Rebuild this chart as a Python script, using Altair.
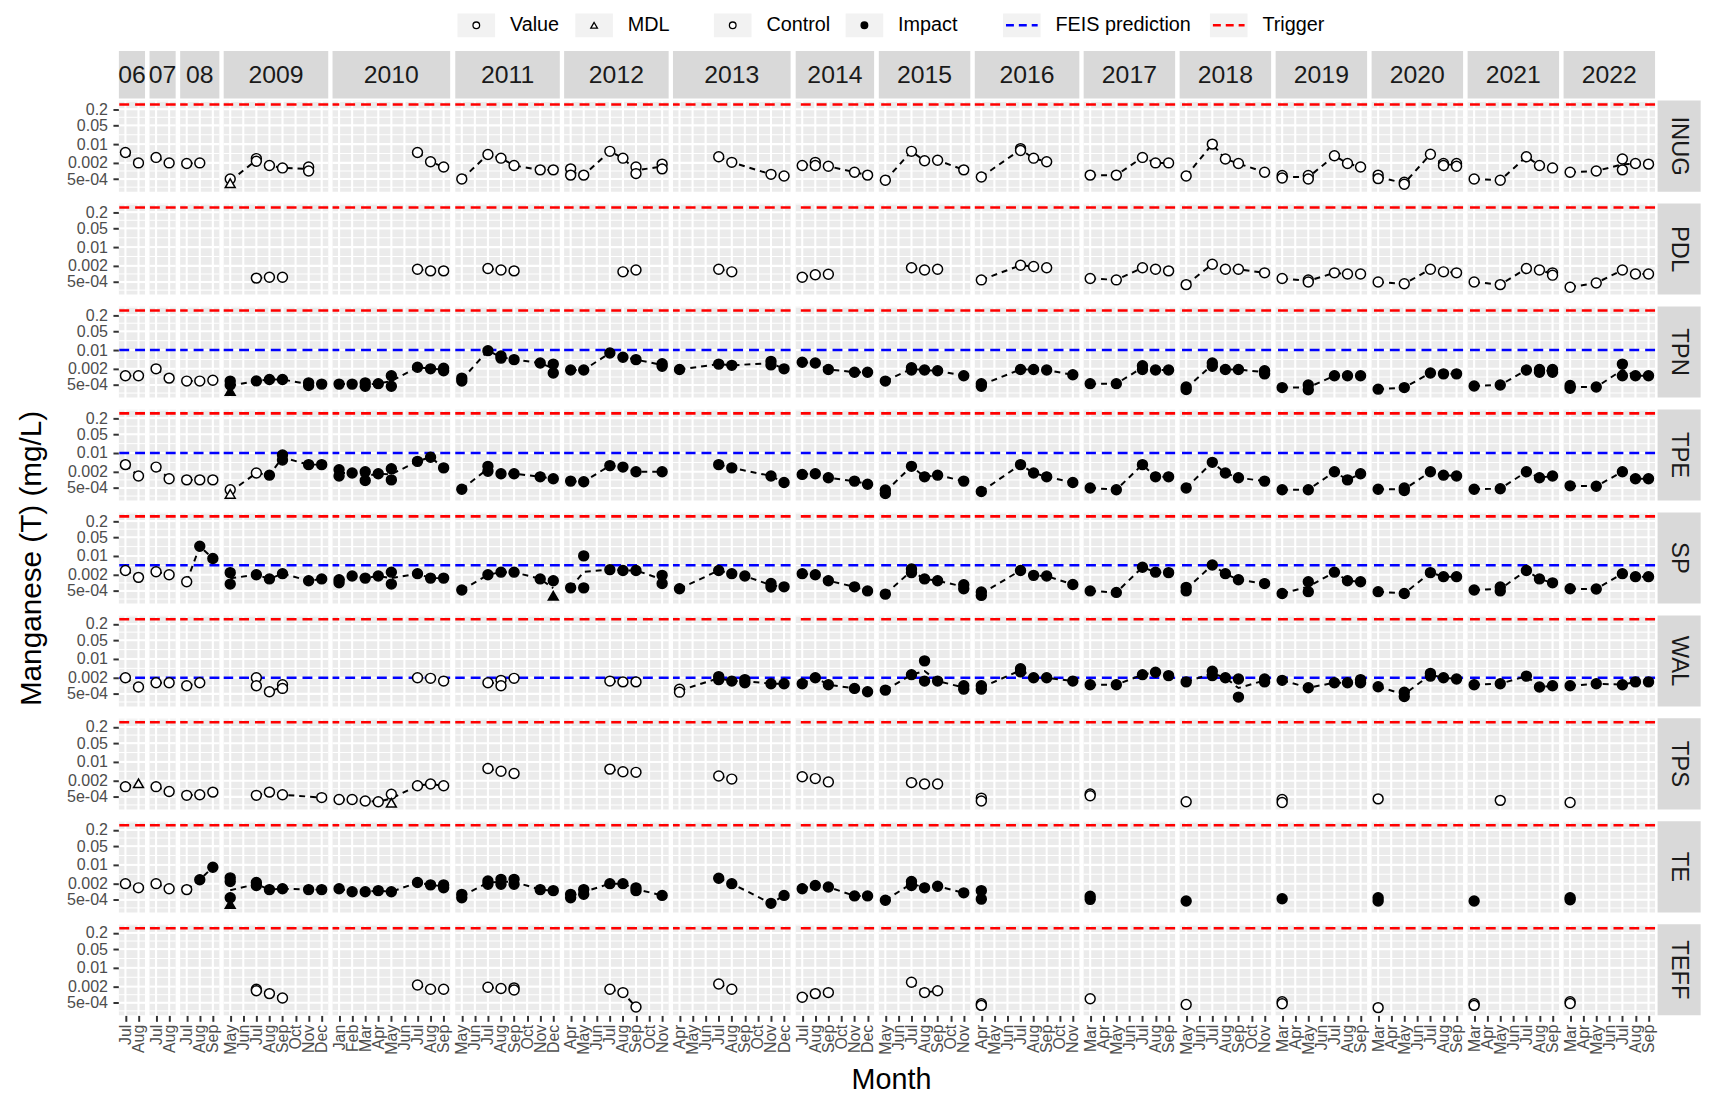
import altair as alt
import pandas as pd
import math

FONT = "Liberation Sans"

YEARS = ["06", "07", "08", "2009", "2010", "2011", "2012", "2013", "2014",
         "2015", "2016", "2017", "2018", "2019", "2020", "2021", "2022"]
MONTHS = [
    ["Jul", "Aug"], ["Jul", "Aug"], ["Jul", "Aug", "Sep"],
    ["May", "Jun", "Jul", "Aug", "Sep", "Oct", "Nov", "Dec"],
    ["Jan", "Feb", "Mar", "Apr", "May", "Jun", "Jul", "Aug", "Sep"],
    ["May", "Jun", "Jul", "Aug", "Sep", "Oct", "Nov", "Dec"],
    ["Apr", "May", "Jun", "Jul", "Aug", "Sep", "Oct", "Nov"],
    ["Apr", "May", "Jun", "Jul", "Aug", "Sep", "Oct", "Nov", "Dec"],
    ["Jul", "Aug", "Sep", "Oct", "Nov", "Dec"],
    ["May", "Jun", "Jul", "Aug", "Sep", "Oct", "Nov"],
    ["Apr", "May", "Jun", "Jul", "Aug", "Sep", "Oct", "Nov"],
    ["Mar", "Apr", "May", "Jun", "Jul", "Aug", "Sep"],
    ["May", "Jun", "Jul", "Aug", "Sep", "Oct", "Nov"],
    ["Mar", "Apr", "May", "Jun", "Jul", "Aug", "Sep"],
    ["Mar", "Apr", "May", "Jun", "Jul", "Aug", "Sep"],
    ["Mar", "Apr", "May", "Jun", "Jul", "Aug", "Sep"],
    ["Mar", "Apr", "May", "Jun", "Jul", "Aug", "Sep"],
]
STATIONS = ["INUG", "PDL", "TPN", "TPE", "SP", "WAL", "TPS", "TE", "TEFF"]

# (year panel, month, value[, "MDL"])
INUG = [
    ("06", "Jul", 0.0049), ("06", "Aug", 0.002), ("07", "Jul", 0.0032), ("07", "Aug", 0.002),
    ("08", "Jul", 0.0019), ("08", "Aug", 0.002),
    ("2009", "May", 0.0005), ("2009", "May", 0.00035, "MDL"), ("2009", "Jul", 0.0029), ("2009", "Jul", 0.0023),
    ("2009", "Aug", 0.0016), ("2009", "Sep", 0.0013), ("2009", "Nov", 0.0014), ("2009", "Nov", 0.001),
    ("2010", "Jul", 0.0049), ("2010", "Aug", 0.0022), ("2010", "Sep", 0.0014),
    ("2011", "May", 0.0005), ("2011", "Jul", 0.0041), ("2011", "Aug", 0.003), ("2011", "Sep", 0.0016),
    ("2011", "Nov", 0.0011), ("2011", "Dec", 0.0011),
    ("2012", "Apr", 0.0012), ("2012", "Apr", 0.0007), ("2012", "May", 0.0007), ("2012", "Jul", 0.0054),
    ("2012", "Aug", 0.003), ("2012", "Sep", 0.0014), ("2012", "Sep", 0.0008), ("2012", "Nov", 0.0018), ("2012", "Nov", 0.0012),
    ("2013", "Jul", 0.0034), ("2013", "Aug", 0.0021), ("2013", "Nov", 0.00075), ("2013", "Dec", 0.00065),
    ("2014", "Jul", 0.0016), ("2014", "Aug", 0.0021), ("2014", "Aug", 0.0016), ("2014", "Sep", 0.0015),
    ("2014", "Nov", 0.0009), ("2014", "Dec", 0.0007),
    ("2015", "May", 0.00045), ("2015", "Jul", 0.0054), ("2015", "Aug", 0.0024), ("2015", "Sep", 0.0025), ("2015", "Nov", 0.0011),
    ("2016", "Apr", 0.0006), ("2016", "Jul", 0.0068), ("2016", "Jul", 0.0058), ("2016", "Aug", 0.003), ("2016", "Sep", 0.0022),
    ("2017", "Mar", 0.0007), ("2017", "May", 0.0007), ("2017", "Jul", 0.0032), ("2017", "Aug", 0.002), ("2017", "Sep", 0.002),
    ("2018", "May", 0.00065), ("2018", "Jul", 0.01), ("2018", "Aug", 0.0028), ("2018", "Sep", 0.0019), ("2018", "Nov", 0.0009),
    ("2019", "Mar", 0.00068), ("2019", "Mar", 0.00055), ("2019", "May", 0.00068), ("2019", "May", 0.0005),
    ("2019", "Jul", 0.0037), ("2019", "Aug", 0.0019), ("2019", "Sep", 0.0014),
    ("2020", "Mar", 0.0007), ("2020", "Mar", 0.00052), ("2020", "May", 0.00038), ("2020", "May", 0.00032),
    ("2020", "Jul", 0.0042), ("2020", "Aug", 0.0019), ("2020", "Aug", 0.0016), ("2020", "Sep", 0.0019), ("2020", "Sep", 0.0015),
    ("2021", "Mar", 0.0005), ("2021", "May", 0.00045), ("2021", "Jul", 0.0034), ("2021", "Aug", 0.0016), ("2021", "Sep", 0.0013),
    ("2022", "Mar", 0.0009), ("2022", "May", 0.001), ("2022", "Jul", 0.0028), ("2022", "Jul", 0.0011),
    ("2022", "Aug", 0.0019), ("2022", "Sep", 0.0018),
]
PDL = [
    ("2009", "Jul", 0.0007), ("2009", "Aug", 0.00075), ("2009", "Sep", 0.00075),
    ("2010", "Jul", 0.0015), ("2010", "Aug", 0.0013), ("2010", "Sep", 0.0013),
    ("2011", "Jul", 0.0016), ("2011", "Aug", 0.0014), ("2011", "Sep", 0.0013),
    ("2012", "Aug", 0.0012), ("2012", "Sep", 0.0014),
    ("2013", "Jul", 0.0015), ("2013", "Aug", 0.0012),
    ("2014", "Jul", 0.00075), ("2014", "Aug", 0.00093), ("2014", "Sep", 0.00097),
    ("2015", "Jul", 0.0017), ("2015", "Aug", 0.0014), ("2015", "Sep", 0.0015),
    ("2016", "Apr", 0.0006), ("2016", "Jul", 0.0021), ("2016", "Aug", 0.0019), ("2016", "Sep", 0.0017),
    ("2017", "Mar", 0.00068), ("2017", "May", 0.0006), ("2017", "Jul", 0.0017), ("2017", "Aug", 0.0015), ("2017", "Sep", 0.0013),
    ("2018", "May", 0.0004), ("2018", "Jul", 0.0023), ("2018", "Aug", 0.0015), ("2018", "Sep", 0.0015), ("2018", "Nov", 0.0011),
    ("2019", "Mar", 0.00068), ("2019", "May", 0.0006), ("2019", "May", 0.0005), ("2019", "Jul", 0.0011),
    ("2019", "Aug", 0.001), ("2019", "Sep", 0.001),
    ("2020", "Mar", 0.0005), ("2020", "May", 0.00043), ("2020", "Jul", 0.0015), ("2020", "Aug", 0.0012), ("2020", "Sep", 0.0011),
    ("2021", "Mar", 0.0005), ("2021", "May", 0.0004), ("2021", "Jul", 0.0016), ("2021", "Aug", 0.0014),
    ("2021", "Sep", 0.0011), ("2021", "Sep", 0.0009),
    ("2022", "Mar", 0.00032), ("2022", "May", 0.00046), ("2022", "Jul", 0.0014), ("2022", "Aug", 0.001), ("2022", "Sep", 0.001),
]
TPN = [
    ("06", "Jul", 0.0011), ("06", "Aug", 0.0011), ("07", "Jul", 0.002), ("07", "Aug", 0.0009),
    ("08", "Jul", 0.0007), ("08", "Aug", 0.0007), ("08", "Sep", 0.00075),
    ("2009", "May", 0.0007), ("2009", "May", 0.0005), ("2009", "May", 0.0003, "MDL"), ("2009", "Jul", 0.00071),
    ("2009", "Aug", 0.0008), ("2009", "Sep", 0.0008), ("2009", "Nov", 0.0006), ("2009", "Nov", 0.00048), ("2009", "Dec", 0.00054),
    ("2010", "Jan", 0.00054), ("2010", "Feb", 0.00054), ("2010", "Mar", 0.0006), ("2010", "Mar", 0.00045),
    ("2010", "Apr", 0.00056), ("2010", "May", 0.0011), ("2010", "May", 0.00045), ("2010", "Jul", 0.0023),
    ("2010", "Aug", 0.002), ("2010", "Sep", 0.0021), ("2010", "Sep", 0.0017),
    ("2011", "May", 0.0009), ("2011", "May", 0.0007), ("2011", "Jul", 0.0095), ("2011", "Aug", 0.006), ("2011", "Aug", 0.005),
    ("2011", "Sep", 0.0044), ("2011", "Nov", 0.0033), ("2011", "Dec", 0.003), ("2011", "Dec", 0.0014),
    ("2012", "Apr", 0.0018), ("2012", "May", 0.0018), ("2012", "Jul", 0.0078), ("2012", "Aug", 0.0054),
    ("2012", "Sep", 0.0044), ("2012", "Nov", 0.0031), ("2012", "Nov", 0.0025),
    ("2013", "Apr", 0.0019), ("2013", "Jul", 0.003), ("2013", "Aug", 0.0027), ("2013", "Nov", 0.0038),
    ("2013", "Nov", 0.0028), ("2013", "Dec", 0.002),
    ("2014", "Jul", 0.0035), ("2014", "Aug", 0.0033), ("2014", "Sep", 0.0019), ("2014", "Nov", 0.0015), ("2014", "Dec", 0.0015),
    ("2015", "May", 0.0007), ("2015", "Jul", 0.0022), ("2015", "Jul", 0.0018), ("2015", "Aug", 0.0018),
    ("2015", "Sep", 0.0017), ("2015", "Nov", 0.0011),
    ("2016", "Apr", 0.00056), ("2016", "Apr", 0.00045), ("2016", "Jul", 0.0019), ("2016", "Aug", 0.0019),
    ("2016", "Sep", 0.0018), ("2016", "Nov", 0.0012),
    ("2017", "Mar", 0.00056), ("2017", "May", 0.00056), ("2017", "Jul", 0.0026), ("2017", "Jul", 0.0019),
    ("2017", "Aug", 0.0018), ("2017", "Sep", 0.0018),
    ("2018", "May", 0.00042), ("2018", "May", 0.00034), ("2018", "Jul", 0.0033), ("2018", "Jul", 0.0025),
    ("2018", "Aug", 0.0019), ("2018", "Sep", 0.0019), ("2018", "Nov", 0.0017), ("2018", "Nov", 0.0013),
    ("2019", "Mar", 0.0004), ("2019", "May", 0.0005), ("2019", "May", 0.00033), ("2019", "Jul", 0.0011),
    ("2019", "Aug", 0.0011), ("2019", "Sep", 0.0011),
    ("2020", "Mar", 0.00035), ("2020", "May", 0.0004), ("2020", "Jul", 0.0014), ("2020", "Aug", 0.0013), ("2020", "Sep", 0.0013),
    ("2021", "Mar", 0.00046), ("2021", "May", 0.0005), ("2021", "Jul", 0.0018), ("2021", "Aug", 0.0019),
    ("2021", "Aug", 0.0015), ("2021", "Sep", 0.0019), ("2021", "Sep", 0.0015),
    ("2022", "Mar", 0.00048), ("2022", "Mar", 0.00038), ("2022", "May", 0.00042), ("2022", "Jul", 0.003),
    ("2022", "Jul", 0.0011), ("2022", "Aug", 0.0011), ("2022", "Sep", 0.0011),
]
TPE = [
    ("06", "Jul", 0.0037), ("06", "Aug", 0.0014), ("07", "Jul", 0.003), ("07", "Aug", 0.0011),
    ("08", "Jul", 0.001), ("08", "Aug", 0.001), ("08", "Sep", 0.001),
    ("2009", "May", 0.00043), ("2009", "May", 0.0003, "MDL"), ("2009", "Jul", 0.0018), ("2009", "Aug", 0.0015),
    ("2009", "Sep", 0.0085), ("2009", "Sep", 0.0055), ("2009", "Nov", 0.0037), ("2009", "Dec", 0.0037),
    ("2010", "Jan", 0.0024), ("2010", "Jan", 0.0014), ("2010", "Feb", 0.0018), ("2010", "Mar", 0.002),
    ("2010", "Mar", 0.00095), ("2010", "Apr", 0.0017), ("2010", "May", 0.0026), ("2010", "May", 0.001),
    ("2010", "Jul", 0.0049), ("2010", "Aug", 0.007), ("2010", "Sep", 0.0028),
    ("2011", "May", 0.00045), ("2011", "Jul", 0.0032), ("2011", "Jul", 0.0021), ("2011", "Aug", 0.0017),
    ("2011", "Sep", 0.0017), ("2011", "Nov", 0.0013), ("2011", "Dec", 0.0011),
    ("2012", "Apr", 0.0009), ("2012", "May", 0.00085), ("2012", "Jul", 0.0034), ("2012", "Aug", 0.003),
    ("2012", "Sep", 0.002), ("2012", "Nov", 0.002),
    ("2013", "Jul", 0.0037), ("2013", "Aug", 0.0028), ("2013", "Nov", 0.0014), ("2013", "Dec", 0.0008),
    ("2014", "Jul", 0.0016), ("2014", "Aug", 0.0017), ("2014", "Sep", 0.0012), ("2014", "Nov", 0.0009), ("2014", "Dec", 0.00069),
    ("2015", "May", 0.00042), ("2015", "May", 0.00031), ("2015", "Jul", 0.0032), ("2015", "Aug", 0.0013),
    ("2015", "Sep", 0.0015), ("2015", "Nov", 0.0009),
    ("2016", "Apr", 0.00037), ("2016", "Jul", 0.0037), ("2016", "Aug", 0.0018), ("2016", "Sep", 0.0013), ("2016", "Nov", 0.0008),
    ("2017", "Mar", 0.0005), ("2017", "May", 0.00043), ("2017", "Jul", 0.0037), ("2017", "Aug", 0.0013), ("2017", "Sep", 0.0013),
    ("2018", "May", 0.0005), ("2018", "Jul", 0.0045), ("2018", "Aug", 0.0018), ("2018", "Sep", 0.0012), ("2018", "Nov", 0.0009),
    ("2019", "Mar", 0.00043), ("2019", "May", 0.00043), ("2019", "Jul", 0.002), ("2019", "Aug", 0.001), ("2019", "Sep", 0.0017),
    ("2020", "Mar", 0.00045), ("2020", "May", 0.0005), ("2020", "May", 0.0004), ("2020", "Jul", 0.002),
    ("2020", "Aug", 0.0015), ("2020", "Sep", 0.0014),
    ("2021", "Mar", 0.00045), ("2021", "May", 0.00047), ("2021", "Jul", 0.002), ("2021", "Aug", 0.0012), ("2021", "Sep", 0.0014),
    ("2022", "Mar", 0.0006), ("2022", "May", 0.00058), ("2022", "Jul", 0.002), ("2022", "Aug", 0.0011), ("2022", "Sep", 0.0011),
]
SP = [
    ("06", "Jul", 0.0029), ("06", "Aug", 0.0016), ("07", "Jul", 0.0026), ("07", "Aug", 0.002),
    ("08", "Jul", 0.0011), ("08", "Aug", 0.023), ("08", "Sep", 0.0081),
    ("2009", "May", 0.0024), ("2009", "May", 0.0009), ("2009", "Jul", 0.002), ("2009", "Aug", 0.0014),
    ("2009", "Sep", 0.0022), ("2009", "Nov", 0.0012), ("2009", "Dec", 0.0014),
    ("2010", "Jan", 0.0013), ("2010", "Jan", 0.001), ("2010", "Feb", 0.0018), ("2010", "Mar", 0.0015),
    ("2010", "Apr", 0.0018), ("2010", "May", 0.0025), ("2010", "May", 0.0009), ("2010", "Jul", 0.0022),
    ("2010", "Aug", 0.0015), ("2010", "Sep", 0.0015),
    ("2011", "May", 0.00054), ("2011", "Jul", 0.002), ("2011", "Aug", 0.0025), ("2011", "Sep", 0.0025),
    ("2011", "Nov", 0.0014), ("2011", "Dec", 0.0012), ("2011", "Dec", 0.00033, "MDL"),
    ("2012", "Apr", 0.00065), ("2012", "May", 0.0101), ("2012", "May", 0.00065), ("2012", "Jul", 0.0031),
    ("2012", "Aug", 0.0029), ("2012", "Sep", 0.0029), ("2012", "Nov", 0.0019), ("2012", "Nov", 0.00094),
    ("2013", "Apr", 0.0006), ("2013", "Jul", 0.0029), ("2013", "Aug", 0.0022), ("2013", "Sep", 0.0018),
    ("2013", "Nov", 0.00095), ("2013", "Nov", 0.0007), ("2013", "Dec", 0.00071),
    ("2014", "Jul", 0.0022), ("2014", "Aug", 0.002), ("2014", "Sep", 0.0012), ("2014", "Nov", 0.00071), ("2014", "Dec", 0.0005),
    ("2015", "May", 0.00038), ("2015", "Jul", 0.0033), ("2015", "Jul", 0.0024), ("2015", "Aug", 0.0014),
    ("2015", "Sep", 0.0012), ("2015", "Nov", 0.00085), ("2015", "Nov", 0.0006),
    ("2016", "Apr", 0.00046), ("2016", "Apr", 0.00034), ("2016", "Jul", 0.0029), ("2016", "Aug", 0.0019),
    ("2016", "Sep", 0.0018), ("2016", "Nov", 0.00087),
    ("2017", "Mar", 0.0005), ("2017", "May", 0.00044), ("2017", "Jul", 0.0038), ("2017", "Aug", 0.0025), ("2017", "Sep", 0.0024),
    ("2018", "May", 0.00068), ("2018", "May", 0.0005), ("2018", "Jul", 0.0046), ("2018", "Aug", 0.0022),
    ("2018", "Sep", 0.0013), ("2018", "Nov", 0.00094),
    ("2019", "Mar", 0.0004), ("2019", "May", 0.0011), ("2019", "May", 0.00047), ("2019", "Jul", 0.0025),
    ("2019", "Aug", 0.0012), ("2019", "Sep", 0.0011),
    ("2020", "Mar", 0.00047), ("2020", "May", 0.0004), ("2020", "Jul", 0.0024), ("2020", "Aug", 0.0017), ("2020", "Sep", 0.0017),
    ("2021", "Mar", 0.00054), ("2021", "May", 0.0007), ("2021", "May", 0.0005), ("2021", "Jul", 0.0029),
    ("2021", "Aug", 0.0014), ("2021", "Sep", 0.001),
    ("2022", "Mar", 0.0006), ("2022", "May", 0.00059), ("2022", "Jul", 0.0022), ("2022", "Aug", 0.0017), ("2022", "Sep", 0.0017),
]
WAL = [
    ("06", "Jul", 0.002), ("06", "Aug", 0.0009), ("07", "Jul", 0.0013), ("07", "Aug", 0.0013),
    ("08", "Jul", 0.001), ("08", "Aug", 0.0013),
    ("2009", "Jul", 0.002), ("2009", "Jul", 0.001), ("2009", "Aug", 0.0006), ("2009", "Sep", 0.0011), ("2009", "Sep", 0.0008),
    ("2010", "Jul", 0.002), ("2010", "Aug", 0.0019), ("2010", "Sep", 0.0015),
    ("2011", "Jul", 0.0013), ("2011", "Aug", 0.0016), ("2011", "Aug", 0.001), ("2011", "Sep", 0.0019),
    ("2012", "Jul", 0.0015), ("2012", "Aug", 0.0014), ("2012", "Sep", 0.0014),
    ("2013", "Apr", 0.00075), ("2013", "Apr", 0.00058), ("2013", "Jul", 0.0022), ("2013", "Jul", 0.0017),
    ("2013", "Aug", 0.0015), ("2013", "Sep", 0.0017), ("2013", "Sep", 0.0013), ("2013", "Nov", 0.0012), ("2013", "Dec", 0.0012),
    ("2014", "Jul", 0.0012), ("2014", "Aug", 0.002), ("2014", "Sep", 0.0011), ("2014", "Nov", 0.0008), ("2014", "Dec", 0.0006),
    ("2015", "May", 0.00069), ("2015", "Jul", 0.0026), ("2015", "Aug", 0.0085), ("2015", "Aug", 0.0015),
    ("2015", "Sep", 0.0015), ("2015", "Nov", 0.001), ("2015", "Nov", 0.00075),
    ("2016", "Apr", 0.001), ("2016", "Apr", 0.00075), ("2016", "Jul", 0.0043), ("2016", "Jul", 0.0033),
    ("2016", "Aug", 0.002), ("2016", "Sep", 0.002), ("2016", "Nov", 0.0015),
    ("2017", "Mar", 0.0011), ("2017", "May", 0.0011), ("2017", "Jul", 0.0026), ("2017", "Aug", 0.0032), ("2017", "Sep", 0.0024),
    ("2018", "May", 0.0014), ("2018", "Jul", 0.0035), ("2018", "Jul", 0.0024), ("2018", "Aug", 0.002),
    ("2018", "Sep", 0.0018), ("2018", "Sep", 0.00038), ("2018", "Nov", 0.0018), ("2018", "Nov", 0.0014),
    ("2019", "Mar", 0.0016), ("2019", "May", 0.00085), ("2019", "Jul", 0.0013), ("2019", "Aug", 0.0013),
    ("2019", "Sep", 0.0017), ("2019", "Sep", 0.0013),
    ("2020", "Mar", 0.00092), ("2020", "May", 0.00058), ("2020", "May", 0.0004), ("2020", "Jul", 0.0029),
    ("2020", "Jul", 0.0023), ("2020", "Aug", 0.002), ("2020", "Sep", 0.0018),
    ("2021", "Mar", 0.0011), ("2021", "May", 0.0012), ("2021", "Jul", 0.0023), ("2021", "Aug", 0.0009), ("2021", "Sep", 0.001),
    ("2022", "Mar", 0.001), ("2022", "May", 0.0012), ("2022", "Jul", 0.0011), ("2022", "Aug", 0.0014), ("2022", "Sep", 0.0014),
]
TPS = [
    ("06", "Jul", 0.0012), ("06", "Aug", 0.0016, "MDL"), ("07", "Jul", 0.0012), ("07", "Aug", 0.00079),
    ("08", "Jul", 0.00057), ("08", "Aug", 0.0006), ("08", "Sep", 0.00075),
    ("2009", "Jul", 0.00057), ("2009", "Aug", 0.00075), ("2009", "Sep", 0.0006), ("2009", "Dec", 0.00047),
    ("2010", "Jan", 0.0004), ("2010", "Feb", 0.0004), ("2010", "Mar", 0.00035), ("2010", "Apr", 0.00033),
    ("2010", "May", 0.00063), ("2010", "May", 0.0003, "MDL"), ("2010", "Jul", 0.0013), ("2010", "Aug", 0.0015), ("2010", "Sep", 0.0013),
    ("2011", "Jul", 0.0057), ("2011", "Aug", 0.0045), ("2011", "Sep", 0.0037),
    ("2012", "Jul", 0.0054), ("2012", "Aug", 0.0043), ("2012", "Sep", 0.0041),
    ("2013", "Jul", 0.003), ("2013", "Aug", 0.0023),
    ("2014", "Jul", 0.0028), ("2014", "Aug", 0.0024), ("2014", "Sep", 0.0018),
    ("2015", "Jul", 0.0017), ("2015", "Aug", 0.0015), ("2015", "Sep", 0.0015),
    ("2016", "Apr", 0.00045), ("2016", "Apr", 0.00035),
    ("2017", "Mar", 0.00064), ("2017", "Mar", 0.00055),
    ("2018", "May", 0.00033),
    ("2019", "Mar", 0.0004), ("2019", "Mar", 0.00031),
    ("2020", "Mar", 0.00042),
    ("2021", "May", 0.00037),
    ("2022", "Mar", 0.00031),
]
TE = [
    ("06", "Jul", 0.002), ("06", "Aug", 0.0014), ("07", "Jul", 0.002), ("07", "Aug", 0.0013),
    ("08", "Jul", 0.0012), ("08", "Aug", 0.0028), ("08", "Sep", 0.0082),
    ("2009", "May", 0.0033), ("2009", "May", 0.0024), ("2009", "May", 0.0006), ("2009", "May", 0.00035, "MDL"),
    ("2009", "Jul", 0.0022), ("2009", "Jul", 0.0017), ("2009", "Aug", 0.0012), ("2009", "Sep", 0.0013),
    ("2009", "Nov", 0.0012), ("2009", "Dec", 0.0012),
    ("2010", "Jan", 0.0013), ("2010", "Feb", 0.001), ("2010", "Mar", 0.001), ("2010", "Apr", 0.0011),
    ("2010", "May", 0.001), ("2010", "Jul", 0.0022), ("2010", "Aug", 0.0018), ("2010", "Sep", 0.0018), ("2010", "Sep", 0.0014),
    ("2011", "May", 0.0008), ("2011", "May", 0.0006), ("2011", "Jul", 0.0025), ("2011", "Jul", 0.0019),
    ("2011", "Aug", 0.0029), ("2011", "Aug", 0.0019), ("2011", "Sep", 0.0029), ("2011", "Sep", 0.0019),
    ("2011", "Nov", 0.0012), ("2011", "Dec", 0.0011),
    ("2012", "Apr", 0.0008), ("2012", "Apr", 0.0006), ("2012", "May", 0.0012), ("2012", "May", 0.0008),
    ("2012", "Jul", 0.002), ("2012", "Aug", 0.002), ("2012", "Sep", 0.0014), ("2012", "Sep", 0.0011), ("2012", "Nov", 0.00073),
    ("2013", "Jul", 0.0032), ("2013", "Aug", 0.002), ("2013", "Nov", 0.00037), ("2013", "Dec", 0.00073),
    ("2014", "Jul", 0.0013), ("2014", "Aug", 0.0017), ("2014", "Sep", 0.0015), ("2014", "Nov", 0.0007), ("2014", "Dec", 0.0007),
    ("2015", "May", 0.00048), ("2015", "Jul", 0.0024), ("2015", "Jul", 0.0017), ("2015", "Aug", 0.0014),
    ("2015", "Sep", 0.0016), ("2015", "Nov", 0.00091),
    ("2016", "Apr", 0.0011), ("2016", "Apr", 0.00053),
    ("2017", "Mar", 0.00068), ("2017", "Mar", 0.00052),
    ("2018", "May", 0.00045),
    ("2019", "Mar", 0.00055),
    ("2020", "Mar", 0.0006), ("2020", "Mar", 0.00045),
    ("2021", "Mar", 0.00045),
    ("2022", "Mar", 0.0006), ("2022", "Mar", 0.0005),
]
TEFF = [
    ("2009", "Jul", 0.0016), ("2009", "Jul", 0.0014), ("2009", "Aug", 0.0011), ("2009", "Sep", 0.00075),
    ("2010", "Jul", 0.0023), ("2010", "Aug", 0.0016), ("2010", "Sep", 0.0016),
    ("2011", "Jul", 0.0019), ("2011", "Aug", 0.0017), ("2011", "Sep", 0.0018), ("2011", "Sep", 0.0015),
    ("2012", "Jul", 0.0016), ("2012", "Aug", 0.0012), ("2012", "Sep", 0.00035),
    ("2013", "Jul", 0.0025), ("2013", "Aug", 0.0016),
    ("2014", "Jul", 0.0008), ("2014", "Aug", 0.0011), ("2014", "Sep", 0.0012),
    ("2015", "Jul", 0.0029), ("2015", "Aug", 0.0012), ("2015", "Sep", 0.0014),
    ("2016", "Apr", 0.00046), ("2016", "Apr", 0.0004),
    ("2017", "Mar", 0.00071),
    ("2018", "May", 0.00043),
    ("2019", "Mar", 0.00055), ("2019", "Mar", 0.00046),
    ("2020", "Mar", 0.00033),
    ("2021", "Mar", 0.00046), ("2021", "Mar", 0.0004),
    ("2022", "Mar", 0.00055), ("2022", "Mar", 0.00047),
]
STATION_DATA = [INUG, PDL, TPN, TPE, SP, WAL, TPS, TE, TEFF]

# first sampling month at which a station counts as "Impact"
IMPACT_FROM = {"TPN": ("2009", "May"), "TPE": ("2009", "Aug"), "SP": ("08", "Aug"),
               "WAL": ("2013", "Jul"), "TE": ("08", "Aug")}
FEIS = {"TPN": 0.01, "TPE": 0.01, "SP": 0.0045, "WAL": 0.002}
TRIGGER = 0.3
MAJOR_BREAKS = [0.0005, 0.002, 0.01, 0.05, 0.2]
MINOR_BREAKS = [0.00025, 0.001, 0.00447, 0.02236, 0.1, 0.4]
Y_DOMAIN = [1.7e-4, 0.42]

# ---------------- layout constants ----------------
UNIT = 13.2
COL_GAP = 0.95               # visible gap ~3.85 px once rule/label overhang is added
PANEL_H = 92
ROW_EXTRA = 9.9
HEADER_H = 48
STRIP_W = 43.5
PANEL_BG = "#EBEBEB"
STRIP_BG = "#D9D9D9"

# ---------------- build tidy data ----------------
seq = {}
k = 0
for yi, yr in enumerate(YEARS):
    for mo in MONTHS[yi]:
        seq[(yr, mo)] = k
        k += 1

rows = []
for st, recs in zip(STATIONS, STATION_DATA):
    start = IMPACT_FROM.get(st)
    for rec in recs:
        yr, mo, val = rec[0], rec[1], rec[2]
        mdl = len(rec) > 3
        impact = start is not None and seq[(yr, mo)] >= seq[start]
        rows.append({"station": st, "year": yr, "month": mo, "value": val,
                     "shape": "triangle-up" if mdl else "circle",
                     "fill": "black" if impact else "white",
                     "idx": MONTHS[YEARS.index(yr)].index(mo)})
df = pd.DataFrame(rows)
df["logv"] = df["value"].apply(math.log10)
line_df = (df.groupby(["station", "year", "month", "idx"], as_index=False)["logv"].mean())
line_df["value"] = 10 ** line_df["logv"]

minor_df = pd.DataFrame({"v": MINOR_BREAKS})
major_df = pd.DataFrame({"v": MAJOR_BREAKS})
trig_df = pd.DataFrame({"v": [TRIGGER]})
bg_df = pd.DataFrame({"lo": [Y_DOMAIN[0]], "hi": [Y_DOMAIN[1]]})


def yscale():
    return alt.Scale(type="log", domain=Y_DOMAIN, range=[PANEL_H, 0], nice=False)


def panel(si, yi):
    st = STATIONS[si]
    yr = YEARS[yi]
    months = MONTHS[yi]
    w = UNIT * len(months)
    last = si == len(STATIONS) - 1
    h = PANEL_H if last else PANEL_H + ROW_EXTRA
    xs = alt.Scale(type="point", domain=months, padding=0.5)

    if last:
        xaxis = alt.Axis(title=None, labelAngle=270, labelAlign="right", labelBaseline="middle",
                         labelFontSize=16, labelColor="#4D4D4D", labelPadding=3, labelFont=FONT,
                         tickSize=6, tickWidth=2, tickColor="#333333", domain=False, grid=False,
                         labelOverlap=False)
    else:
        xaxis = None
    if yi == 0:
        yaxis = alt.Axis(values=MAJOR_BREAKS,
                         labelExpr="datum.value < 0.001 ? '5e-04' : toString(datum.value)",
                         labelFontSize=16.2, labelColor="#4D4D4D", labelPadding=5.5, labelFont=FONT,
                         tickSize=6, tickWidth=2, tickColor="#333333", domain=False, grid=False,
                         labelOverlap=False,
                         title="Manganese (T) (mg/L)" if st == "SP" else None,
                         titleFontSize=30, titleFontWeight="normal", titleColor="black",
                         titleFont=FONT, titlePadding=20)
    else:
        yaxis = None

    def X(field):
        return alt.X(field, scale=xs, axis=xaxis)

    def Y(field):
        return alt.Y(field, scale=yscale(), axis=yaxis)

    layers = [
        alt.Chart(bg_df).mark_rect(color=PANEL_BG).encode(y=Y("lo:Q"), y2="hi:Q"),
        alt.Chart(minor_df).mark_rule(color="white", strokeWidth=1.05).encode(y=Y("v:Q")),
        alt.Chart(major_df).mark_rule(color="white", strokeWidth=2.1).encode(y=Y("v:Q")),
        alt.Chart(pd.DataFrame({"m": months})).mark_rule(color="white", strokeWidth=2.1).encode(x=X("m:N")),
        alt.Chart(trig_df).mark_rule(color="#FF0000", strokeWidth=2.6, strokeDash=[10, 6]).encode(y=Y("v:Q")),
    ]
    if st in FEIS:
        layers.append(alt.Chart(pd.DataFrame({"v": [FEIS[st]]})).mark_rule(
            color="#0000FF", strokeWidth=2.6, strokeDash=[10, 6]).encode(y=Y("v:Q")))
    ln = line_df[(line_df.station == st) & (line_df.year == yr)]
    if len(ln) >= 2:
        layers.append(alt.Chart(ln[["month", "value", "idx"]]).mark_line(
            color="black", strokeWidth=2.0, strokeDash=[6, 5]).encode(
            x=X("month:N"), y=Y("value:Q"), order=alt.Order("idx:Q")))
    pts = df[(df.station == st) & (df.year == yr)]
    if len(pts):
        layers.append(alt.Chart(pts[["month", "value", "shape", "fill"]]).mark_point(
            opacity=1, stroke="black", strokeWidth=1.5, size=100).encode(
            x=X("month:N"), y=Y("value:Q"),
            shape=alt.Shape("shape:N", scale=None),
            fill=alt.Fill("fill:N", scale=None)))
    return alt.layer(*layers).properties(width=w, height=h)


def header(yi):
    w = UNIT * len(MONTHS[yi])
    return alt.Chart(pd.DataFrame({"t": [YEARS[yi]]})).mark_text(
        fontSize=25, color="#1A1A1A", font=FONT).encode(text="t:N").properties(
        width=w, height=HEADER_H, view=alt.ViewBackground(fill=STRIP_BG, stroke=None))


def strip(si):
    last = si == len(STATIONS) - 1
    h = PANEL_H if last else PANEL_H + ROW_EXTRA
    mid = math.sqrt(Y_DOMAIN[0] * Y_DOMAIN[1])
    bg = alt.Chart(bg_df).mark_rect(color=STRIP_BG).encode(
        y=alt.Y("lo:Q", scale=yscale(), axis=None), y2="hi:Q")
    tx = alt.Chart(pd.DataFrame({"t": [STATIONS[si]], "v": [mid]})).mark_text(
        fontSize=24, color="#1A1A1A", font=FONT, angle=90).encode(
        text="t:N", y=alt.Y("v:Q", scale=yscale(), axis=None))
    return alt.layer(bg, tx).properties(width=STRIP_W, height=h)


columns = []
for yi in range(len(YEARS)):
    columns.append(alt.vconcat(header(yi), *[panel(si, yi) for si in range(len(STATIONS))],
                               spacing=2, bounds="flush"))
blank = alt.Chart(pd.DataFrame({"a": [0]})).mark_point(opacity=0).properties(
    width=STRIP_W, height=HEADER_H, view=alt.ViewBackground(fill="white", stroke=None))
columns.append(alt.vconcat(blank, *[strip(si) for si in range(len(STATIONS))],
                           spacing=2, bounds="flush"))
grid = alt.hconcat(*columns, spacing=COL_GAP)

# ---------------- legend (ggplot-style keys) ----------------
LEG_LABELS = ["Value", "MDL", "Control", "Impact", "FEIS prediction", "Trigger"]
LEG_KEY_LEFT = [342, 461, 601, 734, 893, 1102]
KEY_W, LEG_H = 38, 24
lx = alt.Scale(domain=[0, 1400], range=[0, 1400])
ly = alt.Scale(domain=[0, LEG_H], range=[0, LEG_H])
key_df = pd.DataFrame({"x1": LEG_KEY_LEFT, "x2": [v + KEY_W for v in LEG_KEY_LEFT],
                       "y1": [0] * 6, "y2": [LEG_H] * 6})
sym_df = pd.DataFrame({"x": [v + KEY_W / 2 for v in LEG_KEY_LEFT[:4]], "y": [LEG_H / 2] * 4,
                       "shape": ["circle", "triangle-up", "circle", "circle"],
                       "fill": ["white", "white", "white", "black"]})
seg_df = pd.DataFrame({"x1": [v + 3 for v in LEG_KEY_LEFT[4:]], "x2": [v + KEY_W - 3 for v in LEG_KEY_LEFT[4:]],
                       "y": [LEG_H / 2] * 2, "c": ["#0000FF", "#FF0000"]})
lab_df = pd.DataFrame({"x": [v + KEY_W + 15 for v in LEG_KEY_LEFT], "y": [LEG_H / 2] * 6, "t": LEG_LABELS})
legend = alt.layer(
    alt.Chart(key_df).mark_rect(color="#F2F2F2").encode(
        x=alt.X("x1:Q", scale=lx, axis=None), x2="x2:Q",
        y=alt.Y("y1:Q", scale=ly, axis=None), y2="y2:Q"),
    alt.Chart(sym_df).mark_point(opacity=1, stroke="black", strokeWidth=1.3, size=45).encode(
        x=alt.X("x:Q", scale=lx, axis=None), y=alt.Y("y:Q", scale=ly, axis=None),
        shape=alt.Shape("shape:N", scale=None), fill=alt.Fill("fill:N", scale=None)),
    alt.Chart(seg_df).mark_rule(strokeWidth=2.6, strokeDash=[8, 5]).encode(
        x=alt.X("x1:Q", scale=lx, axis=None), x2="x2:Q",
        y=alt.Y("y:Q", scale=ly, axis=None), color=alt.Color("c:N", scale=None)),
    alt.Chart(lab_df).mark_text(align="left", baseline="middle", fontSize=20, color="black", font=FONT).encode(
        x=alt.X("x:Q", scale=lx, axis=None), y=alt.Y("y:Q", scale=ly, axis=None), text="t:N"),
).properties(width=1400, height=LEG_H)

chart = alt.vconcat(legend, grid, spacing=14).properties(
    padding={"left": 9, "top": 0, "right": 0, "bottom": 0},
    title=alt.TitleParams("Month", orient="bottom", anchor="middle", fontSize=29, fontWeight="normal",
                          color="black", font=FONT, dx=33, offset=12),
).configure(font=FONT).configure_view(stroke=None)

chart.save("out.html", embed_options={"renderer": "svg", "actions": False})
